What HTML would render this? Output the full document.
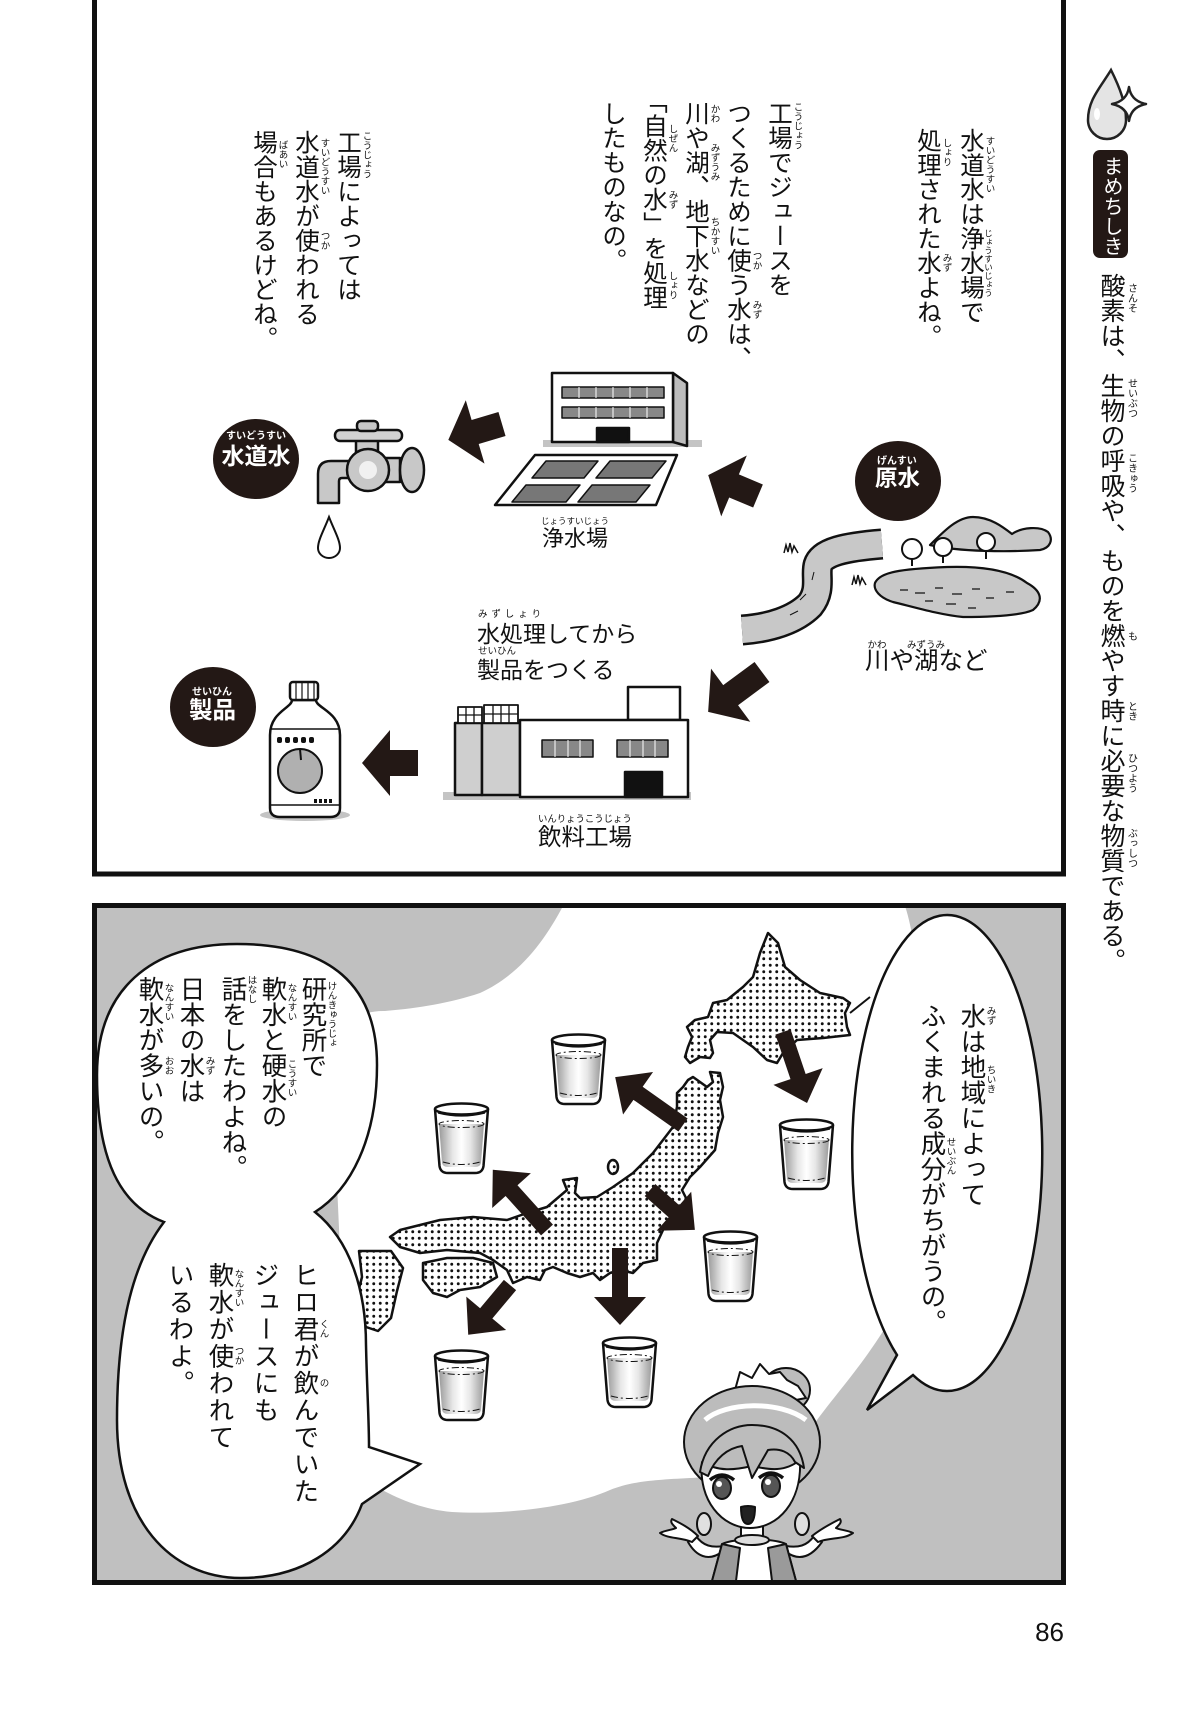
<!DOCTYPE html>
<html><head><meta charset="utf-8">
<style>
html,body{margin:0;padding:0;background:#fff;}
body{width:1182px;height:1733px;position:relative;overflow:hidden;font-family:"Liberation Sans","Noto Sans CJK JP",sans-serif;color:#111;}
.v{position:absolute;writing-mode:vertical-rl;font-size:24.5px;line-height:60px;width:60px;white-space:nowrap;}
.vb{font-size:25.5px;}
.r{position:absolute;writing-mode:vertical-rl;font-size:9.5px;line-height:12px;width:12px;white-space:nowrap;}
.h{position:absolute;white-space:nowrap;line-height:1;}
.w{color:#fff;font-weight:bold;}
.half{font-feature-settings:"vhal";}
</style></head><body>
<svg width="1182" height="1733" style="position:absolute;left:0;top:0" xmlns="http://www.w3.org/2000/svg">
<defs>
<pattern id="dots" width="6.5" height="6.5" patternUnits="userSpaceOnUse"><rect width="6.5" height="6.5" fill="#fff"/><circle cx="3.25" cy="3.25" r="1.45" fill="#111"/></pattern>
<linearGradient id="wg" x1="0" x2="1" y1="0" y2="0"><stop offset="0" stop-color="#9a9a9a"/><stop offset=".3" stop-color="#e6e6e6"/><stop offset=".5" stop-color="#fff"/><stop offset=".7" stop-color="#e6e6e6"/><stop offset="1" stop-color="#9a9a9a"/></linearGradient>
<g id="glass">
<path d="M2,7 L6.5,64 Q7.5,71 15,71 L42,71 Q49.5,71 50.5,64 L55,7" fill="#fff" stroke="#111" stroke-width="2.5"/>
<path d="M6,22 L9,61 Q10,65 15,65 L42,65 Q47,65 48,61 L51,22 Z" fill="url(#wg)"/>
<ellipse cx="28.5" cy="22" rx="22.5" ry="3.5" fill="none" stroke="#111" stroke-width="1" stroke-dasharray="7 3 2 3"/>
<path d="M10,60 Q28.5,65 47,60" fill="none" stroke="#111" stroke-width="1" stroke-dasharray="7 3 2 3"/>
<ellipse cx="28.5" cy="7" rx="26.5" ry="5.5" fill="#fff" stroke="#111" stroke-width="2.5"/>
<path d="M5,11 Q28.5,17 52,11" fill="none" stroke="#111" stroke-width="1.2"/>
</g>
</defs>

<!-- ===== TOP PANEL ===== -->
<rect x="94.5" y="-20" width="969" height="894" fill="none" stroke="#111" stroke-width="5"/>

<!-- circles -->
<ellipse cx="256" cy="459" rx="43" ry="40" fill="#231815"/>
<ellipse cx="898" cy="481" rx="43" ry="40" fill="#231815"/>
<ellipse cx="213" cy="707" rx="43" ry="40" fill="#231815"/>

<!-- faucet -->
<g stroke="#111" stroke-width="2.5" stroke-linejoin="round">
<path d="M352,461 L331,461 Q318,461 318,474 L318,503 L339,503 L339,481 Q339,478 342,478 L352,478 Z" fill="#c8c8c8"/>
<rect x="384" y="458" width="16" height="24" fill="#c8c8c8"/>
<ellipse cx="412" cy="470" rx="12" ry="22" fill="#c8c8c8"/>
<rect x="356" y="440" width="22" height="16" fill="#c8c8c8"/>
<circle cx="368" cy="470" r="21" fill="#c8c8c8"/>
<rect x="335" y="430" width="67" height="11" rx="5" fill="#d2d2d2"/>
<rect x="357" y="421" width="21" height="10" rx="4" fill="#c8c8c8"/>
</g>
<circle cx="368" cy="470" r="9" fill="#fff" opacity=".75"/>
<path d="M329,517 C324,530 318,540 318,548 A11,10 0 0 0 340,548 C340,540 334,530 329,517 Z" fill="#fff" stroke="#111" stroke-width="2"/>

<!-- water purification plant -->
<rect x="543" y="440" width="159" height="7" fill="#c4c4c4"/>
<g stroke="#111" stroke-width="2.5" stroke-linejoin="round">
<polygon points="673,373 687,383 687,446 673,442" fill="#bdbdbd"/>
<rect x="552" y="373" width="121" height="69" fill="#fff"/>
<rect x="562" y="387" width="102" height="11" fill="#888" stroke-width="1.5"/>
<rect x="562" y="407" width="102" height="11" fill="#888" stroke-width="1.5"/>
<rect x="597" y="428" width="32" height="14" fill="#111"/>
<polygon points="535,455 677,455 656,505 495,505" fill="#fff"/>
<g fill="#777" stroke-width="1.5">
<polygon points="546,461 598,461 584,478 532,478"/>
<polygon points="610,461 666,461 652,478 596,478"/>
<polygon points="526,485 580,485 566,502 512,502"/>
<polygon points="592,485 650,485 636,502 578,502"/>
</g>
</g>
<g stroke="#fff" stroke-width="1">
<path d="M579,387v11M596,387v11M613,387v11M630,387v11M647,387v11M579,407v11M596,407v11M613,407v11M630,407v11M647,407v11"/>
</g>

<!-- river, lake, mountain -->
<g stroke="#111" stroke-width="2.2" stroke-linejoin="round">
<path d="M930,545 C945,530 958,517 973,517 C990,517 1003,527 1012,534 C1022,527 1040,526 1048,532 C1054,540 1050,548 1040,550 C1010,552 960,552 930,545 Z" fill="#c8c8c8"/>
</g>
<path d="M742,630 C770,628 795,620 810,605 C822,590 815,575 818,565 C822,552 845,547 882,544" fill="none" stroke="#111" stroke-width="31" stroke-linecap="butt"/>
<path d="M742,630 C770,628 795,620 810,605 C822,590 815,575 818,565 C822,552 845,547 882,544" fill="none" stroke="#c8c8c8" stroke-width="26" stroke-linecap="butt"/>
<path d="M741,616 L741,644 L728,630 Z" fill="#fff"/>
<path d="M883,529 L883,559 L898,544 Z" fill="#fff"/>
<g stroke="#111" stroke-width="2.2" stroke-linejoin="round">
<path d="M875,583 C880,572 900,569 947,567 C980,566 1010,570 1027,583 C1040,590 1045,600 1033,610 C1020,616 990,617 963,617 C940,615 910,606 893,602 C880,598 873,590 875,583 Z" fill="#c8c8c8"/>
</g>
<path d="M900,590h8M915,593h10M935,588h8M952,594h10M972,589h8M925,601h8M946,604h10M986,598h8M1006,592h8M968,608h8" stroke="#111" stroke-width="1.2"/>
<path d="M790,615 l8,-4 M800,600 l6,-6 M812,580 l2,-8" stroke="#111" stroke-width="1"/>
<g stroke="#111" stroke-width="2" fill="#fff">
<line x1="912" y1="552" x2="912" y2="566"/><circle cx="912" cy="549" r="10"/>
<line x1="943" y1="550" x2="943" y2="563"/><circle cx="943" cy="547" r="9"/>
<line x1="986" y1="545" x2="986" y2="559"/><circle cx="986" cy="542" r="9"/>
</g>
<g fill="none" stroke="#111" stroke-width="1.5">
<polyline points="784,553 786,545 788,552 790,543 792,552 794,546 798,553"/>
<polyline points="852,585 854,577 856,584 858,575 860,584 862,578 866,585"/>
</g>

<!-- factory -->
<rect x="443" y="792" width="248" height="8" fill="#c4c4c4"/>
<g stroke="#111" stroke-width="2.5" stroke-linejoin="round">
<rect x="455" y="723" width="27" height="72" fill="#cfcfcf"/>
<rect x="482" y="723" width="38" height="72" fill="#cfcfcf"/>
<rect x="458" y="707" width="24" height="16" fill="#fff" stroke-width="1.8"/>
<rect x="484" y="705" width="34" height="18" fill="#fff" stroke-width="1.8"/>
<rect x="628" y="687" width="52" height="33" fill="#fff"/>
<rect x="520" y="720" width="168" height="77" fill="#fff"/>
<rect x="542" y="740" width="51" height="17" fill="#888" stroke-width="1.5"/>
<rect x="617" y="740" width="51" height="17" fill="#888" stroke-width="1.5"/>
<rect x="625" y="772" width="37" height="25" fill="#111"/>
</g>
<path d="M466,707v16M474,707v16M458,715h24M493,705v18M501,705v18M509,705v18M484,714h34" stroke="#111" stroke-width="1.3"/>
<path d="M555,740v17M568,740v17M580,740v17M630,740v17M643,740v17M655,740v17" stroke="#fff" stroke-width="1"/>

<!-- bottle -->
<ellipse cx="305" cy="815" rx="45" ry="6" fill="#c4c4c4"/>
<g stroke="#111" stroke-width="2.5" stroke-linejoin="round">
<path d="M292,700 L316,700 C316,708 340,712 340,735 L340,808 Q340,817 330,817 L280,817 Q270,817 270,808 L270,735 C270,712 292,708 292,700 Z" fill="#fff"/>
<rect x="290" y="682" width="28" height="18" rx="3" fill="#fff"/>
<circle cx="300" cy="771" r="22" fill="#b0b0b0" stroke-width="2"/>
</g>
<path d="M296,683v16M302,683v16M308,683v16M314,683v16" stroke="#111" stroke-width="1.2"/>
<path d="M271,729 H339 M271,805 H339" stroke="#111" stroke-width="1.5"/>
<path d="M300,749 L301,760" stroke="#111" stroke-width="2"/>
<g fill="#111"><rect x="277" y="737" width="5" height="6" rx="2"/><rect x="285" y="737" width="5" height="6" rx="2"/><rect x="293" y="737" width="5" height="6" rx="2"/><rect x="301" y="737" width="5" height="6" rx="2"/><rect x="309" y="737" width="5" height="6" rx="2"/>
<rect x="314" y="799" width="3" height="4"/><rect x="319" y="799" width="3" height="4"/><rect x="324" y="799" width="3" height="4"/><rect x="329" y="799" width="3" height="4"/></g>

<!-- top arrows -->
<g fill="#231815">
<polygon transform="translate(502,424) rotate(163.5)" points="0,-12.5 28,-12.5 28,-33 56,0 28,33 28,12.5 0,12.5"/>
<polygon transform="translate(758,496) rotate(202.8)" points="0,-12.5 26,-12.5 26,-33 54,0 26,33 26,12.5 0,12.5"/>
<polygon transform="translate(762,672) rotate(143.5)" points="0,-12.5 39,-12.5 39,-33 67,0 39,33 39,12.5 0,12.5"/>
<polygon transform="translate(418,763) rotate(180)" points="0,-13 28,-13 28,-33 56,0 28,33 28,13 0,13"/>
</g>

<!-- right side icon -->
<path d="M1111,70 C1100,88 1088,100 1088,120 A19,19 0 0 0 1126,120 C1126,104 1120,88 1111,70 Z" fill="#e4e4e4" stroke="#222" stroke-width="2.5"/>
<ellipse cx="1097" cy="114" rx="3" ry="6" fill="#fff"/>
<path d="M1129,87 Q1131,101 1146,104 Q1131,107 1129,121 Q1127,107 1112,104 Q1127,101 1129,87 Z" fill="#fff" stroke="#222" stroke-width="2.5" stroke-linejoin="round"/>
<rect x="1093" y="150" width="35" height="108" rx="7" fill="#231815"/>

<!-- ===== BOTTOM PANEL ===== -->
<rect x="97" y="908" width="964" height="672" fill="#c0c0c0"/>
<path d="M563,906 L905,906 C930,980 935,1250 890,1320 C860,1370 830,1400 810,1430 C780,1460 720,1478 690,1478 C650,1480 630,1482 610,1490 C570,1508 500,1515 452,1512 C410,1508 380,1490 350,1470 L330,1030 C350,1015 370,1011 385,1011 C420,1008 450,1003 480,993 C520,975 545,940 563,906 Z" fill="#fff"/>

<!-- map -->
<g fill="url(#dots)" stroke="#111" stroke-width="2.5" stroke-linejoin="round">
<path d="M768,933 L778,943 L785,967 L800,980 L820,993 L843,998 L850,1003 L845,1013 L847,1027 L850,1035 L823,1038 L797,1040 L783,1053 L777,1063 L767,1060 L753,1047 L733,1033 L717,1032 L710,1040 L713,1053 L710,1058 L700,1057 L690,1063 L685,1057 L688,1047 L692,1037 L687,1027 L695,1020 L708,1017 L713,1003 L727,1000 L743,987 L753,977 L760,953 Z"/>
<path d="M710,1072 L720,1073 L723,1087 L720,1100 L723,1117 L718,1133 L715,1150 L700,1167 L690,1177 L682,1190 L687,1200 L673,1217 L663,1230 L657,1243 L657,1260 L643,1263 L633,1273 L620,1270 L610,1273 L600,1280 L593,1273 L580,1277 L567,1273 L553,1267 L545,1270 L540,1280 L527,1277 L513,1283 L507,1270 L493,1260 L480,1253 L447,1250 L420,1253 L400,1247 L390,1237 L400,1230 L420,1225 L440,1220 L473,1217 L507,1220 L527,1213 L547,1207 L567,1190 L563,1180 L577,1178 L575,1193 L580,1198 L597,1197 L613,1187 L633,1173 L653,1153 L663,1140 L673,1127 L677,1107 L677,1093 L683,1087 L688,1080 L693,1077 L700,1082 L707,1087 L713,1082 Z"/>
<path d="M423,1263 L447,1258 L473,1258 L493,1263 L497,1277 L480,1287 L460,1290 L447,1297 L433,1293 L423,1280 Z"/>
<path d="M359,1251 L391,1251 L403,1268 L397,1291 L391,1318 L378,1331 L366,1327 L356,1300 L362,1277 Z"/>
<ellipse cx="613" cy="1167" rx="5" ry="7"/>
</g>
<path d="M850,1013 L870,997" stroke="#111" stroke-width="2"/>

<!-- bottom arrows -->
<g fill="#231815">
<polygon transform="translate(783,1032) rotate(71.3)" points="0,-8 47,-8 47,-26 75,0 47,26 47,8 0,8"/>
<polygon transform="translate(683,1125) rotate(-144.8)" points="0,-8 55,-8 55,-26 83,0 55,26 55,8 0,8"/>
<polygon transform="translate(547,1230) rotate(-132)" points="0,-8 53,-8 53,-26 81,0 53,26 53,8 0,8"/>
<polygon transform="translate(650,1190) rotate(41.6)" points="0,-8 32,-8 32,-26 60,0 32,26 32,8 0,8"/>
<polygon transform="translate(620,1248) rotate(90)" points="0,-8 49,-8 49,-26 77,0 49,26 49,8 0,8"/>
<polygon transform="translate(510,1285) rotate(130)" points="0,-8 37,-8 37,-26 65,0 37,26 37,8 0,8"/>
</g>

<!-- glasses -->
<use href="#glass" x="550" y="1033"/>
<use href="#glass" x="433" y="1102"/>
<use href="#glass" x="778" y="1118"/>
<use href="#glass" x="702" y="1230"/>
<use href="#glass" x="601" y="1336"/>
<use href="#glass" x="433" y="1349"/>

<!-- speech bubbles -->
<path d="M237,944 C330,944 377,985 377,1065 C377,1140 350,1190 315,1212 C350,1240 366,1290 366,1345 C367,1390 369,1420 369,1447 L420,1464 L362,1504 C345,1550 300,1578 241,1578 C170,1578 117,1520 117,1420 C117,1320 135,1260 164,1222 C120,1205 97,1160 97,1075 C97,990 150,944 237,944 Z" fill="#fff" stroke="#111" stroke-width="2.5" stroke-linejoin="miter"/>
<path d="M897,1355 A95,238 0 1 1 913,1375 L867,1410 Z" fill="#fff" stroke="#111" stroke-width="2.5"/>

<!-- girl -->
<g stroke="#111" stroke-width="2" stroke-linejoin="round">
<path d="M722,1552 C708,1562 696,1556 688,1542 L696,1536 C703,1546 712,1548 724,1546 Z" fill="#fff"/>
<path d="M786,1552 C800,1562 812,1556 822,1542 L814,1536 C807,1546 798,1548 786,1546 Z" fill="#fff"/>
<path d="M692,1542 C680,1537 668,1539 660,1533 C666,1530 672,1530 676,1528 C672,1524 670,1522 672,1519 C680,1523 690,1528 698,1536 Z" fill="#fff"/>
<path d="M818,1542 C830,1537 843,1540 853,1533 C847,1530 840,1530 836,1528 C840,1524 842,1522 840,1519 C832,1523 822,1528 812,1536 Z" fill="#fff"/>
<path d="M722,1544 C735,1538 772,1538 786,1544 L796,1581 L712,1581 Z" fill="#fff"/>
<path d="M722,1544 L712,1581 L736,1581 L740,1548 Z" fill="#9a9a9a"/>
<path d="M786,1544 L796,1581 L772,1581 L768,1548 Z" fill="#9a9a9a"/>
<rect x="741" y="1522" width="22" height="18" fill="#fff"/>
<ellipse cx="752" cy="1540" rx="17" ry="5" fill="#ddd"/>
<ellipse cx="786" cy="1390" rx="24" ry="22" fill="#bcbcbc"/>
<path d="M735,1390 L740,1372 L752,1378 L760,1364 L769,1374 L780,1372 L787,1380 L798,1386 L806,1398 L796,1400 L773,1389 L753,1390 L738,1394 Z" fill="#fff"/>
<ellipse cx="752" cy="1442" rx="68" ry="56" fill="#bcbcbc"/>
<path d="M702,1462 C698,1500 722,1528 750,1528 C778,1528 802,1502 800,1460 C785,1472 770,1470 752,1466 C735,1470 718,1472 702,1462 Z" fill="#fff"/>
<path d="M700,1472 C705,1440 730,1425 752,1425 C780,1425 800,1440 804,1468 L795,1462 C790,1452 780,1448 768,1450 L752,1478 L742,1446 C728,1448 715,1458 708,1476 Z" fill="#bcbcbc"/>
<ellipse cx="722" cy="1488" rx="9" ry="11" fill="#555"/>
<ellipse cx="771" cy="1486" rx="9" ry="11" fill="#555"/>
<path d="M741,1507 Q748,1505 755,1507 Q755,1524 748,1524 Q741,1524 741,1507 Z" fill="#222"/>
<ellipse cx="704" cy="1524" rx="7" ry="11" fill="#e0e0e0"/>
<ellipse cx="802" cy="1524" rx="7" ry="11" fill="#e0e0e0"/>
</g>
<path d="M705,1420 C725,1402 780,1400 806,1420" stroke="#fff" stroke-width="5" fill="none"/>
<path d="M710,1480 Q722,1470 734,1480 M759,1478 Q771,1468 783,1478" stroke="#111" stroke-width="3.5" fill="none"/>
<circle cx="719" cy="1484" r="3" fill="#fff"/><circle cx="768" cy="1482" r="3" fill="#fff"/>

<rect x="94.5" y="905.5" width="969" height="677" fill="none" stroke="#111" stroke-width="5"/>
</svg>

<!-- ===== TOP PANEL TEXT ===== -->
<div class="v" style="left:940px;top:128px">水道水は浄水場で</div>
<div class="v" style="left:897px;top:128px">処理された水よね。</div>
<div class="v" style="left:748px;top:101px">工場でジュースを</div>
<div class="v" style="left:707px;top:101px">つくるために使う水は、</div>
<div class="v" style="left:665px;top:101px">川や湖、地下水などの</div>
<div class="v" style="left:623px;top:101px"><span class="half">「</span>自然の水」を処理</div>
<div class="v" style="left:582px;top:101px">したものなの。</div>
<div class="v" style="left:317px;top:130px">工場によっては</div>
<div class="v" style="left:275px;top:130px">水道水が使われる</div>
<div class="v" style="left:233px;top:130px">場合もあるけどね。</div>

<div class="r" style="left:982.5px;top:136.25px">すいどうすい</div>
<div class="r" style="left:982.5px;top:228.75px;font-size:8.5px">じょうすいじょう</div>
<div class="r" style="left:939.5px;top:138.25px">しょり</div>
<div class="r" style="left:939.5px;top:253.25px">みず</div>
<div class="r" style="left:790.5px;top:101.75px">こうじょう</div>
<div class="r" style="left:749.5px;top:250.75px">つか</div>
<div class="r" style="left:749.5px;top:299.75px">みず</div>
<div class="r" style="left:707.5px;top:103.75px">かわ</div>
<div class="r" style="left:707.5px;top:143.25px">みずうみ</div>
<div class="r" style="left:707.5px;top:216.75px">ちかすい</div>
<div class="r" style="left:665.5px;top:123.5px">しぜん</div>
<div class="r" style="left:665.5px;top:189.5px">みず</div>
<div class="r" style="left:665.5px;top:270.5px">しょり</div>
<div class="r" style="left:359.5px;top:130.75px">こうじょう</div>
<div class="r" style="left:317.5px;top:138.25px">すいどうすい</div>
<div class="r" style="left:317.5px;top:230.75px">つか</div>
<div class="r" style="left:275.5px;top:140.25px">ばあい</div>

<!-- circle labels -->
<div class="h w" style="left:226px;top:431.7px;font-size:10px;width:60px;text-align:center">すいどうすい</div>
<div class="h w" style="left:221.5px;top:444.8px;font-size:23px">水道水</div>
<div class="h w" style="left:877px;top:456.7px;font-size:10px">げんすい</div>
<div class="h w" style="left:875px;top:468px;font-size:22.5px">原水</div>
<div class="h w" style="left:192px;top:687.7px;font-size:10px">せいひん</div>
<div class="h w" style="left:189px;top:698.5px;font-size:23.5px">製品</div>

<!-- diagram labels -->
<div class="h" style="left:541px;top:516.5px;font-size:8.5px">じょうすいじょう</div>
<div class="h" style="left:542px;top:528.3px;font-size:22px">浄水場</div>
<div class="h" style="left:867.5px;top:641px;font-size:9.5px">かわ</div>
<div class="h" style="left:907px;top:641px;font-size:9.5px">みずうみ</div>
<div class="h" style="left:865px;top:650px;font-size:24.5px">川や湖など</div>
<div class="h" style="left:478px;top:610px;font-size:9.5px;letter-spacing:3.9px">みずしょり</div>
<div class="h" style="left:477px;top:622.8px;font-size:23px">水処理してから</div>
<div class="h" style="left:478px;top:647px;font-size:9.5px">せいひん</div>
<div class="h" style="left:477px;top:658.8px;font-size:23px">製品をつくる</div>
<div class="h" style="left:538px;top:814px;font-size:9.4px">いんりょうこうじょう</div>
<div class="h" style="left:538px;top:825.5px;font-size:23.5px">飲料工場</div>

<!-- right column -->
<div class="v" style="left:1093px;top:156px;width:35px;line-height:35px;font-size:20px;color:#fff">まめちしき</div>
<div class="v" style="left:1081px;top:273px;font-size:25px">酸素は、生物の呼吸や、ものを燃やす時に必要な物質である。</div>
<div class="r" style="left:1124.5px;top:283px;font-size:10px">さんそ</div>
<div class="r" style="left:1124.5px;top:378px;font-size:10px">せいぶつ</div>
<div class="r" style="left:1124.5px;top:453px;font-size:10px">こきゅう</div>
<div class="r" style="left:1124.5px;top:630.5px;font-size:10px">も</div>
<div class="r" style="left:1124.5px;top:700.5px;font-size:10px">とき</div>
<div class="r" style="left:1124.5px;top:753px;font-size:10px">ひつよう</div>
<div class="r" style="left:1124.5px;top:828px;font-size:10px">ぶっしつ</div>

<!-- ===== BOTTOM PANEL TEXT ===== -->
<div class="v vb" style="left:282px;top:976px">研究所で</div>
<div class="v vb" style="left:242px;top:976px">軟水と硬水の</div>
<div class="v vb" style="left:202px;top:976px">話をしたわよね。</div>
<div class="v vb" style="left:160px;top:976px">日本の水は</div>
<div class="v vb" style="left:119px;top:976px">軟水が多いの。</div>
<div class="r" style="left:324.5px;top:981px">けんきゅうじょ</div>
<div class="r" style="left:284.5px;top:982.5px">なんすい</div>
<div class="r" style="left:284.5px;top:1059px">こうすい</div>
<div class="r" style="left:244.5px;top:974.5px">はなし</div>
<div class="r" style="left:202.5px;top:1055.75px">みず</div>
<div class="r" style="left:161.5px;top:982.5px">なんすい</div>
<div class="r" style="left:161.5px;top:1055.75px">おお</div>

<div class="v vb" style="left:274px;top:1262px;letter-spacing:1.5px">ヒロ君が飲んでいた</div>
<div class="v vb" style="left:234px;top:1262px;letter-spacing:1.5px">ジュースにも</div>
<div class="v vb" style="left:189px;top:1262px;letter-spacing:1.5px">軟水が使われて</div>
<div class="v vb" style="left:149px;top:1262px;letter-spacing:1.5px">いるわよ。</div>
<div class="r" style="left:316.5px;top:1319.25px">くん</div>
<div class="r" style="left:316.5px;top:1378px">の</div>
<div class="r" style="left:231.5px;top:1269.25px">なんすい</div>
<div class="r" style="left:231.5px;top:1346.25px">つか</div>

<div class="v vb" style="left:941px;top:1003px">水は地域によって</div>
<div class="v vb" style="left:901px;top:1003px">ふくまれる成分がちがうの。</div>
<div class="r" style="left:983.5px;top:1006.25px">みず</div>
<div class="r" style="left:983.5px;top:1065.25px">ちいき</div>
<div class="r" style="left:943.5px;top:1137px">せいぶん</div>

<!-- page number -->
<div class="h" style="left:1000px;top:1619px;width:64px;text-align:right;font-size:26px;font-family:'Liberation Sans',sans-serif">86</div>
</body></html>
